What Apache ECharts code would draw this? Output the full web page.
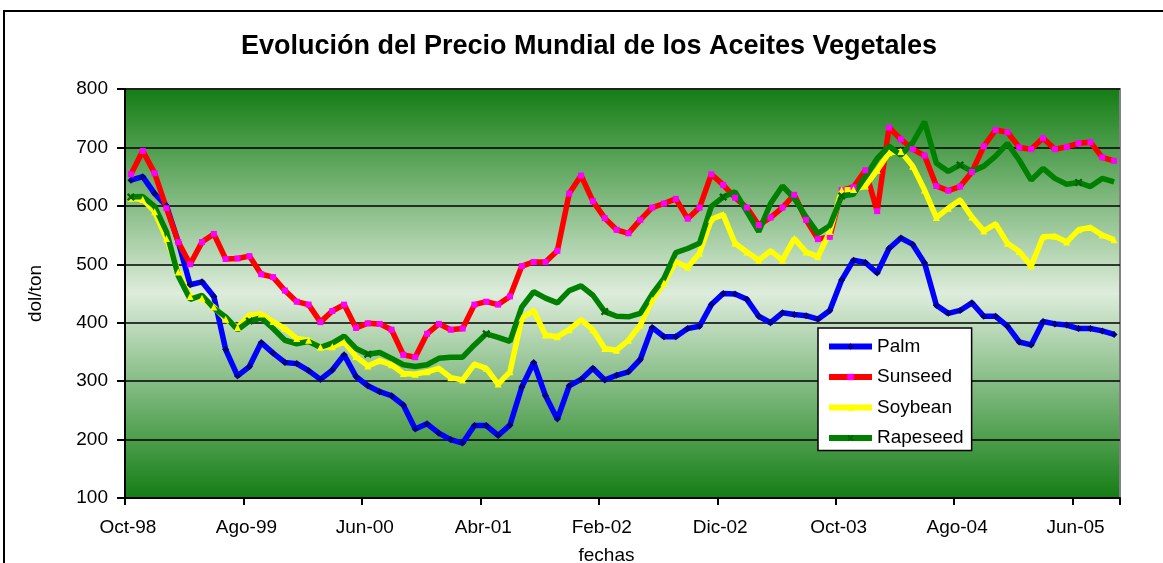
<!DOCTYPE html>
<html><head><meta charset="utf-8">
<script src="https://cdn.jsdelivr.net/npm/echarts@6/dist/echarts.min.js"></script>
<style>html,body{margin:0;padding:0;background:#fff}#c{width:1163px;height:563px}</style>
</head><body><div id="c"></div>
<script>
const categories = [
  'Oct-98','Nov-98','Dic-98',
  'Ene-99','Feb-99','Mar-99','Abr-99','May-99','Jun-99','Jul-99','Ago-99','Sep-99','Oct-99','Nov-99','Dic-99',
  'Ene-00','Feb-00','Mar-00','Abr-00','May-00','Jun-00','Jul-00','Ago-00','Sep-00','Oct-00','Nov-00','Dic-00',
  'Ene-01','Feb-01','Mar-01','Abr-01','May-01','Jun-01','Jul-01','Ago-01','Sep-01','Oct-01','Nov-01','Dic-01',
  'Ene-02','Feb-02','Mar-02','Abr-02','May-02','Jun-02','Jul-02','Ago-02','Sep-02','Oct-02','Nov-02','Dic-02',
  'Ene-03','Feb-03','Mar-03','Abr-03','May-03','Jun-03','Jul-03','Ago-03','Sep-03','Oct-03','Nov-03','Dic-03',
  'Ene-04','Feb-04','Mar-04','Abr-04','May-04','Jun-04','Jul-04','Ago-04','Sep-04','Oct-04','Nov-04','Dic-04',
  'Ene-05','Feb-05','Mar-05','Abr-05','May-05','Jun-05','Jul-05','Ago-05','Sep-05'
];
const palm = [644,650,621,600,538,465,470,445,354,309,
  325,366,348,332,330,318,303,319,345,308,
  292,282,275,259,218,227,211,200,194,224,
  224,207,225,290,332,275,235,292,303,322,
  302,310,316,337,392,376,376,390,394,431,
  450,449,440,411,400,417,414,412,406,421,
  473,507,503,485,527,545,534,502,430,416,
  421,434,411,411,394,367,362,402,398,396,
  390,390,386,380];
const sunseed = [654,694,656,596,538,500,538,552,509,510,
  514,483,478,455,436,431,401,420,431,391,
  399,398,388,345,341,381,398,388,390,431,
  436,431,445,497,504,504,523,621,652,608,
  579,559,553,576,597,604,612,578,597,654,
  636,614,597,567,580,597,619,576,543,547,
  627,632,661,591,734,714,697,686,634,626,
  633,658,702,730,726,700,697,716,697,701,
  707,709,683,677];
const soybean = [613,611,590,544,487,445,442,427,406,392,
  413,415,402,390,373,370,358,359,367,342,
  326,335,328,313,312,316,322,306,302,329,
  322,295,316,408,421,379,376,388,405,388,
  356,353,370,396,439,468,504,495,519,577,
  585,536,521,507,523,507,544,521,513,556,
  627,628,634,661,691,693,668,627,580,596,
  610,581,557,569,536,522,497,547,548,538,
  559,563,550,542];
const rapeseed = [615,616,599,556,480,440,447,425,410,388,
  403,408,390,370,364,368,358,365,377,356,
  346,349,339,328,325,328,339,341,341,362,
  381,375,368,427,453,442,434,455,463,447,
  419,411,410,416,449,476,520,527,536,599,
  615,624,590,556,604,634,613,581,553,566,
  617,620,650,681,702,687,708,744,673,659,
  670,659,668,685,707,678,644,664,647,637,
  640,633,647,641];
const yTicks = {min: 100, max: 800, interval: 100};

const FONT = '"Liberation Sans", Arial, Helvetica, sans-serif';
const chart = echarts.init(document.getElementById('c'), null, {renderer: 'canvas'});

function mk(name, data, color, symbol, size, symColor) {
  return {
    name, type: 'line', data,
    symbol, symbolSize: size, showSymbol: true,
    lineStyle: {color, width: 5.5},
    itemStyle: {color: symColor, borderColor: symColor, borderWidth: 0},
    emphasis: {disabled: true},
    z: 2
  };
}
const xPath = 'path://M0,2L2,0L5,3L8,0L10,2L7,5L10,8L8,10L5,7L2,10L0,8L3,5Z';

const option = {
  animation: false,
  backgroundColor: '#ffffff',
  title: {
    text: 'Evolución del Precio Mundial de los Aceites Vegetales',
    left: 589, top: 33, padding: 0, textAlign: 'center',
    textStyle: {fontFamily: FONT, fontSize: 27, fontWeight: 'bold', color: '#000'}
  },
  graphic: [{
    type: 'rect', silent: true, z: -10,
    shape: {x: 4, y: 11, width: 1250, height: 650},
    style: {fill: 'none', stroke: '#000', lineWidth: 2}
  }],
  grid: {
    left: 125, right: 43, top: 89, bottom: 65,
    outerBoundsMode: 'none',
    containLabel: false,
    show: true,
    borderColor: '#808080', borderWidth: 2,
    backgroundColor: new echarts.graphic.LinearGradient(0, 0, 0, 1, [
      {offset: 0, color: '#137d13'},
      {offset: 0.5, color: '#ddecdb'},
      {offset: 1, color: '#137d13'}
    ])
  },
  legend: {
    orient: 'vertical', left: 818, top: 328,
    padding: [9, 8, 3, 8],
    itemWidth: 43, itemHeight: 8, itemGap: 11.5,
    lineStyle: {width: 6},
    backgroundColor: '#fff', borderColor: '#000', borderWidth: 1.5, borderRadius: 0,
    textStyle: {fontFamily: FONT, fontSize: 19, color: '#000'},
    data: ['Palm', 'Sunseed', 'Soybean', 'Rapeseed']
  },
  xAxis: {
    type: 'category', data: categories, boundaryGap: true,
    name: 'fechas', nameLocation: 'middle', nameGap: 48,
    nameTextStyle: {fontFamily: FONT, fontSize: 19, color: '#000', padding: [0, 32, 0, 0]},
    axisLine: {lineStyle: {color: '#000', width: 2}},
    axisTick: {show: true, interval: 9, length: 7, lineStyle: {color: '#000', width: 2}},
    axisLabel: {interval: 9, margin: 20, fontFamily: FONT, fontSize: 19, color: '#000', padding: [0, 6, 0, 0]},
    splitLine: {show: false}
  },
  yAxis: {
    type: 'value', min: yTicks.min, max: yTicks.max, interval: yTicks.interval,
    name: 'dol/ton', nameLocation: 'middle', nameGap: 80,
    nameTextStyle: {fontFamily: FONT, fontSize: 19, color: '#000'},
    axisLine: {show: true, lineStyle: {color: '#000', width: 2}},
    axisTick: {show: true, length: 8, lineStyle: {color: '#000', width: 2}},
    axisLabel: {margin: 17, fontFamily: FONT, fontSize: 19, color: '#000'},
    splitLine: {show: true, lineStyle: {color: '#000', width: 1.5}}
  },
  series: [
    mk('Palm', palm, '#0000ff', 'diamond', 7, '#000080'),
    mk('Sunseed', sunseed, '#ff0000', 'rect', 6, '#ff00ff'),
    mk('Soybean', soybean, '#ffff00', 'triangle', 7, '#ffff00'),
    mk('Rapeseed', rapeseed, '#008000', xPath, 8, '#006400')
  ]
};
chart.setOption(option);
</script>
</body></html>
